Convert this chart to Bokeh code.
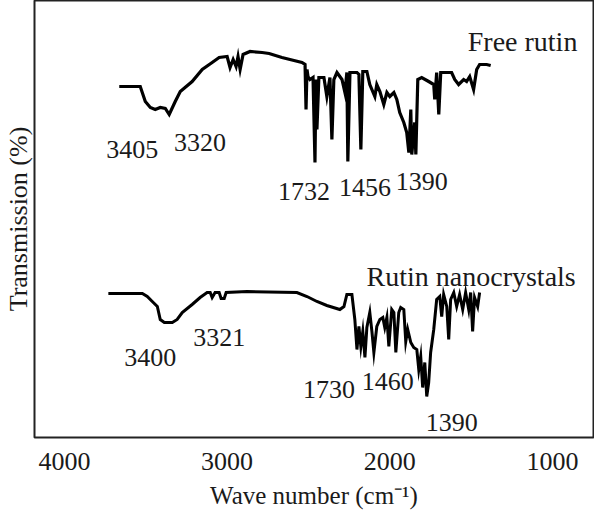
from bokeh.plotting import figure
from bokeh.models import Range1d, FixedTicker
from bokeh.core.properties import value
from bokeh.embed import file_html
from bokeh.resources import INLINE

# ---- data (wavenumber in cm-1, transmission in arbitrary units) ----
free_wn = [3663, 3534, 3503, 3472, 3442, 3411, 3380, 3356, 3319, 3288, 3215, 3153, 3092, 3049,
           3000, 2982, 2963, 2945, 2933, 2920, 2902, 2859, 2785, 2742, 2663, 2589, 2540, 2521,
           2515, 2509, 2503, 2491, 2472, 2460, 2454, 2448, 2436, 2405, 2387, 2368, 2356, 2344,
           2325, 2294, 2276, 2264, 2258, 2245, 2202, 2190, 2178, 2166, 2141, 2123, 2092, 2080,
           2061, 2037, 2018, 2000, 1975, 1957, 1939, 1914, 1896, 1883, 1871, 1865, 1847, 1840,
           1828, 1804, 1761, 1730, 1724, 1712, 1699, 1687, 1620, 1601, 1577, 1546, 1528, 1509,
           1485, 1466, 1448, 1405, 1380]
free_t = [351, 351, 336, 330, 328, 330, 329, 323, 336, 346, 356, 368, 375, 380,
          381, 370, 378, 371, 381, 368, 383, 386, 385, 384, 380, 377, 375, 373,
          328, 368, 361, 358, 360, 275, 358, 308, 360, 360, 341, 360, 298, 358,
          365, 358, 345, 365, 276, 365, 365, 363, 288, 366, 366, 353, 341, 353,
          346, 333, 345, 341, 345, 338, 325, 315, 305, 285, 328, 283, 315, 283,
          358, 360, 356, 353, 338, 365, 323, 365, 365, 358, 353, 358, 356, 361,
          348, 368, 373, 373, 372]

nano_wn = [3730, 3521, 3491, 3460, 3429, 3411, 3386, 3337, 3307, 3276, 3215, 3166, 3123, 3104,
           3092, 3074, 3049, 3037, 3018, 3006, 2877, 2571, 2509, 2448, 2387, 2307, 2282, 2264,
           2233, 2215, 2202, 2190, 2178, 2166, 2153, 2141, 2123, 2110, 2098, 2080, 2061, 2043,
           2031, 2018, 2006, 1988, 1975, 1963, 1945, 1933, 1914, 1902, 1890, 1871, 1853, 1834,
           1822, 1810, 1798, 1785, 1773, 1761, 1749, 1730, 1712, 1693, 1681, 1669, 1650, 1638,
           1626, 1607, 1589, 1571, 1552, 1534, 1515, 1503, 1491, 1479, 1460, 1448]
nano_t = [144, 144, 141, 136, 131, 118, 115, 115, 118, 125, 133, 140, 145, 145,
          140, 145, 145, 139, 139, 145, 146, 145, 141, 136, 132, 128, 131, 143,
          143, 118, 88, 111, 91, 106, 80, 110, 125, 106, 85, 111, 118, 120,
          110, 120, 91, 128, 125, 85, 125, 130, 128, 96, 108, 95, 90, 88,
          68, 81, 50, 75, 41, 55, 85, 108, 138, 141, 121, 143, 131, 98,
          138, 145, 131, 143, 128, 145, 128, 145, 106, 140, 131, 145]

peak_text = ["3405", "3320", "1732", "1456", "1390", "3400", "3321", "1730", "1460", "1390"]
peak_x = [3583, 3166, 2528, 2153, 1804, 3472, 3049, 2374, 2012, 1620]
peak_y = [288, 295, 246, 250, 256, 80, 100, 48, 56, 15]

series_text = ["Free rutin", "Rutin nanocrystals"]
series_x = [1184, 1500]
series_y = [396, 161]

x_ticks = [4000, 3000, 2000, 1000]

FONT = "Liberation Serif"
INK = "#1a1a1a"

p = figure(frame_width=559, frame_height=437, output_backend="svg", toolbar_location=None,
           x_range=Range1d(4184, 748), y_range=Range1d(0, 437),
           min_border_left=32, min_border_right=1, min_border_top=0, min_border_bottom=0)
p.background_fill_color = "white"
p.border_fill_color = "white"
p.outline_line_color = "#222222"
p.outline_line_width = 2
p.grid.visible = False

p.line(free_wn, free_t, line_color="black", line_width=3.2, line_join="miter")
p.line(nano_wn, nano_t, line_color="black", line_width=3, line_join="miter")

p.text(peak_x, peak_y, text=peak_text, text_font=value(FONT), text_font_size="26px",
       text_align="center", text_baseline="alphabetic", text_color=INK)
p.text(series_x, series_y, text=series_text, text_font=value(FONT), text_font_size="28px",
       text_align="center", text_baseline="alphabetic", text_color=INK)

xa = p.xaxis[0]
xa.ticker = FixedTicker(ticks=x_ticks)
xa.minor_tick_line_color = None
xa.major_tick_line_color = None
xa.major_tick_out = 0
xa.major_tick_in = 0
xa.axis_line_color = None
xa.major_label_standoff = 15
xa.major_label_text_font = FONT
xa.major_label_text_font_size = "26px"
xa.major_label_text_color = INK
xa.axis_label = "Wave number (cm⁻¹)"
xa.axis_label_text_font = FONT
xa.axis_label_text_font_size = "25px"
xa.axis_label_text_font_style = "normal"
xa.axis_label_text_color = INK
xa.axis_label_standoff = 9

ya = p.yaxis[0]
ya.ticker = FixedTicker(ticks=[])
ya.minor_tick_line_color = None
ya.major_tick_line_color = None
ya.major_tick_out = 0
ya.major_tick_in = 0
ya.axis_line_color = None
ya.major_label_text_font_size = "0px"
ya.major_label_standoff = 0
ya.axis_label = "Transmission (%)"
ya.axis_label_text_font = FONT
ya.axis_label_text_font_size = "26px"
ya.axis_label_text_font_style = "normal"
ya.axis_label_text_color = INK
ya.axis_label_standoff = 2

open("out.html", "w").write(file_html(p, INLINE))
